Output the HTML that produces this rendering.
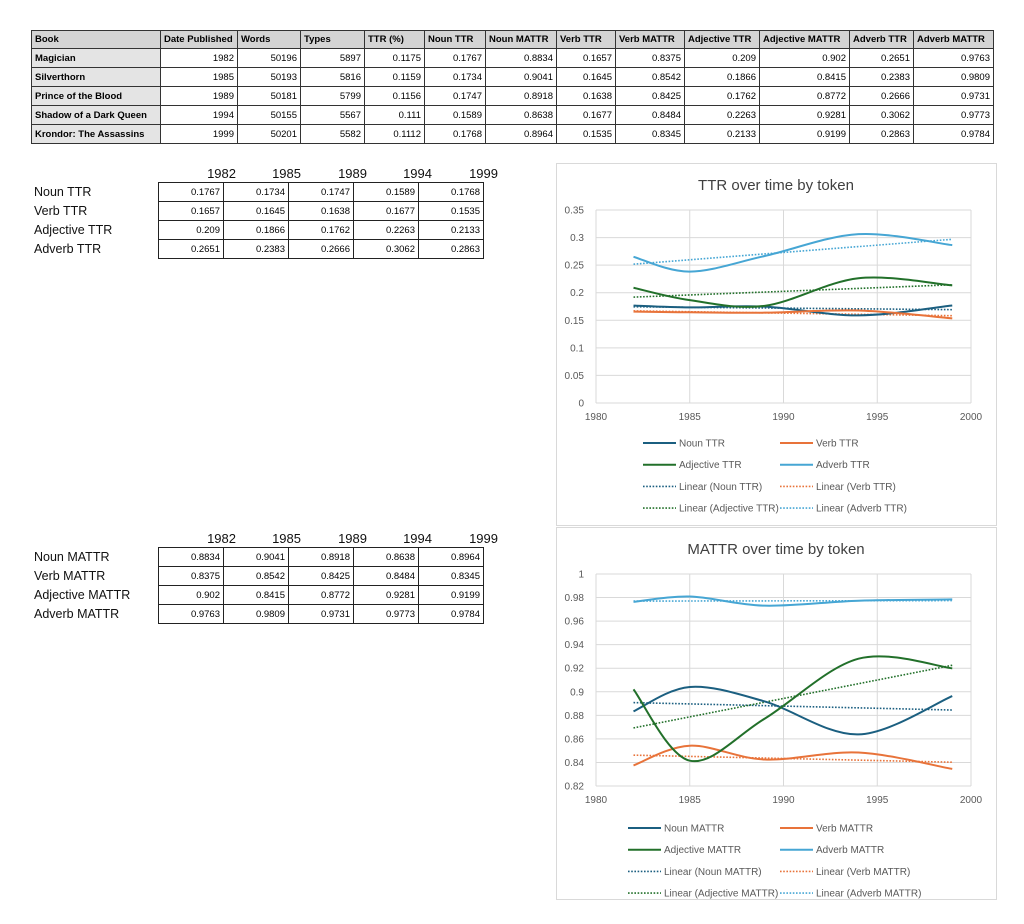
<!DOCTYPE html>
<html><head><meta charset="utf-8">
<style>
body{margin:0;background:#fff;width:1024px;height:924px;position:relative;overflow:hidden;font-family:"Liberation Sans",Arial,sans-serif;}
table{border-collapse:collapse;position:absolute;}
#top{left:31px;top:30px;font-size:9.5px;}
#top td{border:1px solid #333;height:19px;padding:0 3px;text-align:right;box-sizing:border-box;}
#top tr:first-child td{background:#d4d4d4;font-weight:bold;text-align:left;height:18px;}
#top td:first-child{background:#e4e4e4;font-weight:bold;text-align:left;}
.sm{font-size:9.5px;}
.sm td{border:1px solid #222;height:19px;width:65px;text-align:right;padding:0 3px;box-sizing:border-box;}
.lbl{position:absolute;font-size:12.5px;color:#111;}
.yr{position:absolute;font-size:13px;color:#111;width:60px;text-align:right;}
</style></head><body>
<table id="top">
<tr><td style="width:129px">Book</td><td style="width:77px">Date Published</td><td style="width:63px">Words</td><td style="width:64px">Types</td><td style="width:60px">TTR (%)</td><td style="width:61px">Noun TTR</td><td style="width:71px">Noun MATTR</td><td style="width:59px">Verb TTR</td><td style="width:69px">Verb MATTR</td><td style="width:75px">Adjective TTR</td><td style="width:90px">Adjective MATTR</td><td style="width:64px">Adverb TTR</td><td style="width:80px">Adverb MATTR</td></tr>
<tr><td>Magician</td><td>1982</td><td>50196</td><td>5897</td><td>0.1175</td><td>0.1767</td><td>0.8834</td><td>0.1657</td><td>0.8375</td><td>0.209</td><td>0.902</td><td>0.2651</td><td>0.9763</td></tr>
<tr><td>Silverthorn</td><td>1985</td><td>50193</td><td>5816</td><td>0.1159</td><td>0.1734</td><td>0.9041</td><td>0.1645</td><td>0.8542</td><td>0.1866</td><td>0.8415</td><td>0.2383</td><td>0.9809</td></tr>
<tr><td>Prince of the Blood</td><td>1989</td><td>50181</td><td>5799</td><td>0.1156</td><td>0.1747</td><td>0.8918</td><td>0.1638</td><td>0.8425</td><td>0.1762</td><td>0.8772</td><td>0.2666</td><td>0.9731</td></tr>
<tr><td>Shadow of a Dark Queen</td><td>1994</td><td>50155</td><td>5567</td><td>0.111</td><td>0.1589</td><td>0.8638</td><td>0.1677</td><td>0.8484</td><td>0.2263</td><td>0.9281</td><td>0.3062</td><td>0.9773</td></tr>
<tr><td>Krondor: The Assassins</td><td>1999</td><td>50201</td><td>5582</td><td>0.1112</td><td>0.1768</td><td>0.8964</td><td>0.1535</td><td>0.8345</td><td>0.2133</td><td>0.9199</td><td>0.2863</td><td>0.9784</td></tr>
</table>

<div class="yr" style="left:176px;top:166px">1982</div><div class="yr" style="left:241px;top:166px">1985</div><div class="yr" style="left:307px;top:166px">1989</div><div class="yr" style="left:372px;top:166px">1994</div><div class="yr" style="left:438px;top:166px">1999</div>
<div class="lbl" style="left:34px;top:185px">Noun TTR</div><div class="lbl" style="left:34px;top:204px">Verb TTR</div><div class="lbl" style="left:34px;top:223px">Adjective TTR</div><div class="lbl" style="left:34px;top:242px">Adverb TTR</div>
<table class="sm" style="left:158px;top:182px">
<tr><td>0.1767</td><td>0.1734</td><td>0.1747</td><td>0.1589</td><td>0.1768</td></tr>
<tr><td>0.1657</td><td>0.1645</td><td>0.1638</td><td>0.1677</td><td>0.1535</td></tr>
<tr><td>0.209</td><td>0.1866</td><td>0.1762</td><td>0.2263</td><td>0.2133</td></tr>
<tr><td>0.2651</td><td>0.2383</td><td>0.2666</td><td>0.3062</td><td>0.2863</td></tr>
</table>

<div class="yr" style="left:176px;top:531px">1982</div><div class="yr" style="left:241px;top:531px">1985</div><div class="yr" style="left:307px;top:531px">1989</div><div class="yr" style="left:372px;top:531px">1994</div><div class="yr" style="left:438px;top:531px">1999</div>
<div class="lbl" style="left:34px;top:550px">Noun MATTR</div><div class="lbl" style="left:34px;top:569px">Verb MATTR</div><div class="lbl" style="left:34px;top:588px">Adjective MATTR</div><div class="lbl" style="left:34px;top:607px">Adverb MATTR</div>
<table class="sm" style="left:158px;top:547px">
<tr><td>0.8834</td><td>0.9041</td><td>0.8918</td><td>0.8638</td><td>0.8964</td></tr>
<tr><td>0.8375</td><td>0.8542</td><td>0.8425</td><td>0.8484</td><td>0.8345</td></tr>
<tr><td>0.902</td><td>0.8415</td><td>0.8772</td><td>0.9281</td><td>0.9199</td></tr>
<tr><td>0.9763</td><td>0.9809</td><td>0.9731</td><td>0.9773</td><td>0.9784</td></tr>
</table>

<svg id="s" width="1024" height="924" style="position:absolute;left:0;top:0" font-family="Liberation Sans, Arial, sans-serif"></svg>
<script>
var svg=document.getElementById('s'),out='';
var C={n:'#1b5f80',v:'#e8733a',a:'#22702a',d:'#46a6d4'};
var yrs=[1982,1985,1989,1994,1999];
function X(y){return 596+(y-1980)*18.75;}
function smooth(p){var d='M'+p[0][0]+','+p[0][1];for(var i=0;i<p.length-1;i++){var p0=p[i-1]||p[i],p1=p[i],p2=p[i+1],p3=p[i+2]||p2;var t=1/6;d+=' C'+(p1[0]+(p2[0]-p0[0])*t)+','+(p1[1]+(p2[1]-p0[1])*t)+' '+(p2[0]-(p3[0]-p1[0])*t)+','+(p2[1]-(p3[1]-p1[1])*t)+' '+p2[0]+','+p2[1];}return d;}
function chart(o){
 out+='<rect x="556.5" y="'+o.bt+'" width="440" height="'+o.bh+'" fill="#fff" stroke="#d9d9d9"/>';
 out+='<text x="776" y="'+o.ty+'" font-size="15" fill="#404040" text-anchor="middle">'+o.title+'</text>';
 for(var i=0;i<o.ticks.length;i++){var yy=o.Y(o.ticks[i]);out+='<line x1="596" x2="971" y1="'+yy+'" y2="'+yy+'" stroke="#d9d9d9"/>';out+='<text x="584" y="'+(yy+3.5)+'" font-size="10" fill="#595959" text-anchor="end">'+o.lab[i]+'</text>';}
 for(var y=1980;y<=2000;y+=5){out+='<line x1="'+X(y)+'" x2="'+X(y)+'" y1="'+o.Y(o.ticks[o.ticks.length-1])+'" y2="'+o.Y(o.ticks[0])+'" stroke="#d9d9d9"/>';out+='<text x="'+X(y)+'" y="'+(o.Y(o.ticks[0])+17)+'" font-size="10" fill="#595959" text-anchor="middle">'+y+'</text>';}
 var keys=['n','v','a','d'];
 keys.forEach(function(k){var tr=o.trend[k];out+='<line x1="'+X(1982)+'" y1="'+o.Y(tr[0])+'" x2="'+X(1999)+'" y2="'+o.Y(tr[1])+'" stroke="'+C[k]+'" stroke-width="1.6" stroke-dasharray="1.6,1.6"/>';});
 keys.forEach(function(k){var p=yrs.map(function(y,i){return [X(y),o.Y(o.data[k][i])];});out+='<path d="'+smooth(p)+'" fill="none" stroke="'+C[k]+'" stroke-width="2"/>';});
 var L=o.leg;
 var items=[['n',0,'solid',o.names[0]],['v',1,'solid',o.names[1]],['a',0,'solid',o.names[2]],['d',1,'solid',o.names[3]],['n',0,'dot','Linear ('+o.names[0]+')'],['v',1,'dot','Linear ('+o.names[1]+')'],['a',0,'dot','Linear ('+o.names[2]+')'],['d',1,'dot','Linear ('+o.names[3]+')']];
 items.forEach(function(it,i){var r=Math.floor(i/2),yy=L.y+r*21.7,x0=it[1]?780:L.x;
  out+='<line x1="'+x0+'" x2="'+(x0+33)+'" y1="'+yy+'" y2="'+yy+'" stroke="'+C[it[0]]+'" stroke-width="'+(it[2]=='dot'?1.6:2)+'"'+(it[2]=='dot'?' stroke-dasharray="1.6,1.6"':'')+'/>';
  out+='<text x="'+(x0+36)+'" y="'+(yy+3.5)+'" font-size="10" fill="#595959">'+it[3]+'</text>';});
}
chart({bt:163.5,bh:362,ty:190,title:'TTR over time by token',Y:function(v){return 403-v*551.4;},
 ticks:[0,.05,.1,.15,.2,.25,.3,.35],lab:['0','0.05','0.1','0.15','0.2','0.25','0.3','0.35'],
 data:{n:[.1767,.1734,.1747,.1589,.1768],v:[.1657,.1645,.1638,.1677,.1535],a:[.209,.1866,.1762,.2263,.2133],d:[.2651,.2383,.2666,.3062,.2863]},
 trend:{n:[.1745,.1693],v:[.1671,.1583],a:[.1920,.2144],d:[.2518,.2969]},
 names:['Noun TTR','Verb TTR','Adjective TTR','Adverb TTR'],leg:{x:643,y:443}});
chart({bt:527.5,bh:372,ty:554,title:'MATTR over time by token',Y:function(v){return 786-(v-.82)*1177.8;},
 ticks:[.82,.84,.86,.88,.9,.92,.94,.96,.98,1],lab:['0.82','0.84','0.86','0.88','0.9','0.92','0.94','0.96','0.98','1'],
 data:{n:[.8834,.9041,.8918,.8638,.8964],v:[.8375,.8542,.8425,.8484,.8345],a:[.902,.8415,.8772,.9281,.9199],d:[.9763,.9809,.9731,.9773,.9784]},
 trend:{n:[.8908,.8845],v:[.8462,.8402],a:[.8693,.9225],d:[.9770,.9774]},
 names:['Noun MATTR','Verb MATTR','Adjective MATTR','Adverb MATTR'],leg:{x:628,y:828}});
svg.innerHTML=out;
</script>
</body></html>
